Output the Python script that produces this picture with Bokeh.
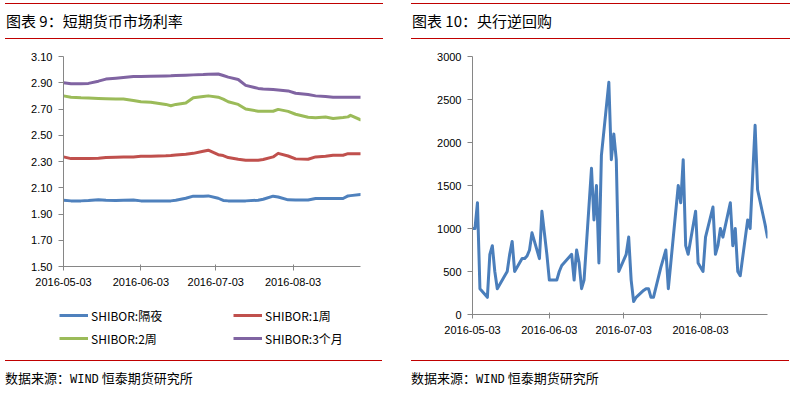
import pandas as pd
from bokeh.plotting import figure
from bokeh.models import (Range1d, FixedTicker, DatetimeTickFormatter, NumeralTickFormatter,
                          Legend, LegendItem, Div, Spacer)
from bokeh.layouts import row, column
from bokeh.embed import file_html
from bokeh.resources import INLINE

# ---------------- data: chart 9 (SHIBOR) ----------------
shibor_dates = ["2016-05-03", "2016-05-06", "2016-05-10", "2016-05-13", "2016-05-17", "2016-05-20",
                "2016-05-24", "2016-05-27", "2016-05-31", "2016-06-03", "2016-06-07", "2016-06-13",
                "2016-06-15", "2016-06-17", "2016-06-21", "2016-06-24", "2016-06-28", "2016-06-30",
                "2016-07-04", "2016-07-06", "2016-07-08", "2016-07-12", "2016-07-15", "2016-07-20",
                "2016-07-22", "2016-07-26", "2016-07-28", "2016-08-01", "2016-08-04", "2016-08-09",
                "2016-08-12", "2016-08-16", "2016-08-19", "2016-08-23", "2016-08-25", "2016-08-26",
                "2016-08-30"]
shibor_on = [2.005, 2.000, 2.000, 2.002, 2.008, 2.004, 2.003, 2.004, 2.006, 2.000, 2.000, 2.000,
             2.000, 2.005, 2.020, 2.036, 2.036, 2.038, 2.020, 2.003, 2.000, 2.000, 2.000, 2.005,
             2.012, 2.036, 2.030, 2.008, 2.006, 2.006, 2.018, 2.018, 2.018, 2.018, 2.038, 2.040,
             2.048]
shibor_1w = [2.335, 2.322, 2.322, 2.323, 2.325, 2.330, 2.332, 2.334, 2.335, 2.340, 2.340, 2.343,
             2.346, 2.350, 2.355, 2.362, 2.378, 2.386, 2.352, 2.345, 2.330, 2.317, 2.310, 2.310,
             2.315, 2.335, 2.362, 2.342, 2.320, 2.317, 2.335, 2.340, 2.348, 2.348, 2.360, 2.360,
             2.360]
shibor_2w = [2.800, 2.790, 2.785, 2.783, 2.780, 2.779, 2.776, 2.776, 2.765, 2.755, 2.752, 2.735,
             2.725, 2.735, 2.745, 2.785, 2.795, 2.800, 2.790, 2.775, 2.755, 2.735, 2.700, 2.683,
             2.682, 2.683, 2.697, 2.682, 2.660, 2.637, 2.634, 2.639, 2.628, 2.635, 2.640, 2.652,
             2.618]
shibor_3m = [2.900, 2.892, 2.892, 2.895, 2.912, 2.928, 2.935, 2.940, 2.947, 2.948, 2.950, 2.952,
             2.953, 2.955, 2.958, 2.960, 2.962, 2.965, 2.967, 2.955, 2.943, 2.925, 2.880, 2.857,
             2.853, 2.848, 2.845, 2.838, 2.820, 2.810, 2.800, 2.795, 2.790, 2.790, 2.790, 2.790,
             2.790]
shibor_names = ["SHIBOR:隔夜", "SHIBOR:1周", "SHIBOR:2周", "SHIBOR:3个月"]
left_y_ticks = [1.50, 1.70, 1.90, 2.10, 2.30, 2.50, 2.70, 2.90, 3.10]

# ---------------- data: chart 10 (reverse repo) ----------------
repo_dates = ["2016-05-03", "2016-05-04", "2016-05-05", "2016-05-06", "2016-05-09", "2016-05-10",
              "2016-05-11", "2016-05-12", "2016-05-13", "2016-05-16", "2016-05-17", "2016-05-18",
              "2016-05-19", "2016-05-20", "2016-05-23", "2016-05-24", "2016-05-25", "2016-05-26",
              "2016-05-27", "2016-05-30", "2016-05-31", "2016-06-01", "2016-06-02", "2016-06-03",
              "2016-06-06", "2016-06-07", "2016-06-08", "2016-06-12", "2016-06-13", "2016-06-14",
              "2016-06-15", "2016-06-16", "2016-06-17", "2016-06-20", "2016-06-21", "2016-06-22",
              "2016-06-23", "2016-06-24", "2016-06-27", "2016-06-28", "2016-06-29", "2016-06-30",
              "2016-07-01", "2016-07-04", "2016-07-05", "2016-07-06", "2016-07-07", "2016-07-08",
              "2016-07-11", "2016-07-12", "2016-07-13", "2016-07-14", "2016-07-15", "2016-07-18",
              "2016-07-19", "2016-07-20", "2016-07-21", "2016-07-22", "2016-07-25", "2016-07-26",
              "2016-07-27", "2016-07-28", "2016-07-29", "2016-08-01", "2016-08-02", "2016-08-03",
              "2016-08-04", "2016-08-05", "2016-08-08", "2016-08-09", "2016-08-10", "2016-08-11",
              "2016-08-12", "2016-08-15", "2016-08-16", "2016-08-17", "2016-08-18", "2016-08-19",
              "2016-08-22", "2016-08-23", "2016-08-24", "2016-08-25", "2016-08-26", "2016-08-29",
              "2016-08-30"]
repo_values = [1000, 1000, 1300, 300, 200, 700,
               800, 500, 300, 450, 500, 700,
               850, 500, 650, 650, 680, 750,
               950, 650, 1200, 950, 700, 400,
               400, 500, 570, 700, 400, 750,
               600, 300, 400, 1700, 1100, 1500,
               600, 1850, 2700, 1800, 2100, 1800,
               500, 700, 900, 400, 150, 200,
               280, 300, 300, 200, 200, 550,
               650, 750, 300, 600, 1500, 1300,
               1800, 800, 700, 1200, 600, 550,
               500, 900, 1250, 700, 800, 1000,
               900, 1300, 800, 1000, 500, 450,
               1100, 1000, 1600, 2200, 1450, 1050,
               900]
right_y_ticks = [0, 500, 1000, 1500, 2000, 2500, 3000]

date_ticks = ["2016-05-03", "2016-06-03", "2016-07-03", "2016-08-03"]
x_start, x_end = "2016-05-03", "2016-08-30"

# ---------------- styling helpers ----------------
AXIS_GREY = "#868686"
TICK_FONT = "Liberation Sans"
CJK_FONT = "Noto Sans CJK SC"
tick_ms = [pd.Timestamp(d).timestamp() * 1000 for d in date_ticks]
fmt = "%Y-%m-%d"
colors = ["#4F81BD", "#C0504D", "#9BBB59", "#8064A2"]


def style(p, yticks, yfmt):
    p.outline_line_color = None
    p.xgrid.grid_line_color = None
    p.ygrid.grid_line_color = None
    p.background_fill_color = "white"
    p.border_fill_color = "white"
    for ax in (p.xaxis[0], p.yaxis[0]):
        ax.axis_line_color = AXIS_GREY
        ax.axis_line_width = 1
        ax.major_tick_line_color = AXIS_GREY
        ax.minor_tick_line_color = None
        ax.major_label_text_font = TICK_FONT
        ax.major_label_text_font_size = "11px"
        ax.major_label_text_color = "#000000"
    xa = p.xaxis[0]
    xa.ticker = FixedTicker(ticks=tick_ms)
    xa.formatter = DatetimeTickFormatter(days=fmt, months=fmt, years=fmt, hours=fmt,
                                         hourmin=fmt, minutes=fmt, minsec=fmt, seconds=fmt,
                                         milliseconds=fmt, microseconds=fmt)
    xa.major_tick_out = 4
    xa.major_tick_in = 2
    xa.major_label_standoff = 7
    ya = p.yaxis[0]
    ya.ticker = FixedTicker(ticks=yticks)
    ya.formatter = NumeralTickFormatter(format=yfmt)
    ya.major_tick_out = 5
    ya.major_tick_in = 0
    ya.major_label_standoff = 6


def pos(left, top):
    return {"position": "absolute", "left": "%dpx" % left, "top": "%dpx" % top}


series = [shibor_on, shibor_1w, shibor_2w, shibor_3m]

# ---------------- left figure (own root, placed over the left slot) ----------------
sd = pd.to_datetime(shibor_dates)
p1 = figure(width=400, height=260, x_axis_type="datetime",
            x_range=Range1d(pd.Timestamp(x_start), pd.Timestamp(x_end)),
            y_range=Range1d(1.5, 3.1), output_backend="svg", toolbar_location=None,
            min_border_left=63, min_border_right=40, min_border_top=16, min_border_bottom=34,
            styles=pos(0, 40))
style(p1, left_y_ticks, "0.00")
for vals, c in zip(series, colors):
    p1.line(sd, vals, line_color=c, line_width=3, line_join="round", line_cap="round")

# legend strip under the left chart: same series and styles, ranges keep lines out of view
lf = figure(width=400, height=56, x_range=Range1d(0, 1), y_range=Range1d(0, 1),
            x_axis_location=None, y_axis_location=None, min_border=0,
            output_backend="svg", toolbar_location=None, styles=pos(0, 300))
lf.outline_line_color = None
lf.xgrid.grid_line_color = None
lf.ygrid.grid_line_color = None
keys = [lf.line(sd, vals, line_color=c, line_width=3) for vals, c in zip(series, colors)]
items = [LegendItem(label=n, renderers=[r]) for n, r in zip(shibor_names, keys)]
for pair, loc in ((items[:2], (59, 31)), (items[2:], (59, 8))):
    lg = Legend(items=pair, location=loc, orientation="horizontal",
                padding=0, margin=0, spacing=4, border_line_color=None,
                background_fill_alpha=0, glyph_width=29, glyph_height=20,
                label_height=20, label_width=138, label_standoff=3,
                label_text_font=CJK_FONT, label_text_font_size="12px",
                label_text_color="#000000")
    lf.add_layout(lg)

# ---------------- right figure ----------------
rd = pd.to_datetime(repo_dates)
p2 = figure(width=397, height=320, x_axis_type="datetime",
            x_range=Range1d(pd.Timestamp(x_start), pd.Timestamp(x_end)),
            y_range=Range1d(0, 3000), output_backend="svg", toolbar_location=None,
            min_border_left=72, min_border_right=30, min_border_top=16, min_border_bottom=46)
style(p2, right_y_ticks, "0")
p2.line(rd, repo_values, line_color="#4A7EBB", line_width=3, line_join="round", line_cap="round")


# ---------------- titles and footers ----------------
def title_div(text, width, left, line_w):
    html = ('<div style="margin:3px 0 0 %dpx;width:%dpx;height:34px;'
            'border-top:1px solid #C00000;border-bottom:1px solid #C00000;'
            "font-family:'Noto Sans CJK SC';font-size:15px;line-height:34px;color:#000;"
            'white-space:nowrap;padding-left:1px;box-sizing:content-box;">%s</div>') % (left, line_w, text)
    return Div(text=html, width=width, height=40, margin=0)


def foot_div(width, left, line_w):
    html = ('<div style="margin:0 0 0 %dpx;width:%dpx;height:33px;'
            'border-top:1px solid #C00000;'
            "font-family:'Noto Sans CJK SC';font-size:13px;line-height:33px;color:#000;"
            'white-space:nowrap;box-sizing:content-box;">数据来源：'
            "<span style=\"font-family:'Liberation Mono';font-size:12px;\">WIND</span>"
            ' 恒泰期货研究所</div>') % (left, line_w)
    return Div(text=html, width=width, height=35, margin=0)


t1 = title_div("图表 9：短期货币市场利率", 400, 5, 377)
t2 = title_div("图表 10：央行逆回购", 397, 11, 378)
f1 = foot_div(400, 5, 377)
f2 = foot_div(397, 11, 378)

main = column(row(t1, t2), row(Spacer(width=400, height=320, margin=0), p2), row(f1, f2))
p = [main, p1, lf]

open("out.html", "w").write(file_html(p, INLINE))
